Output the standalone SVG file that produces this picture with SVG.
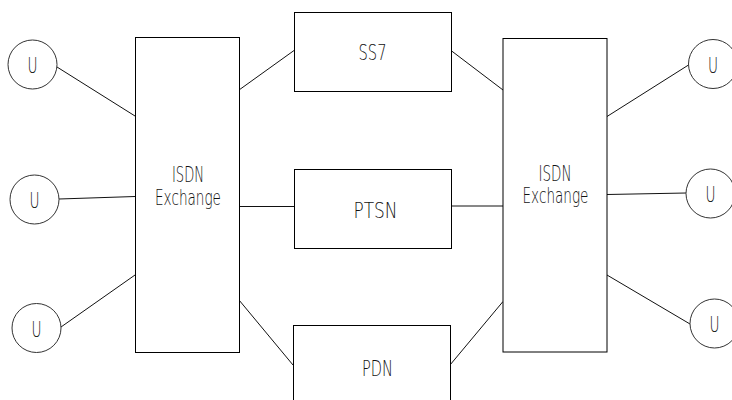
<svg xmlns="http://www.w3.org/2000/svg" width="732" height="400" viewBox="0 0 732 400">
<style>
.box{fill:#fff;stroke:#000;stroke-width:1}
.u{fill:#fff;stroke:#333;stroke-width:1}
.ln{stroke:#111;stroke-width:1;fill:none}
text{font-family:"DejaVu Sans","Liberation Sans",sans-serif;font-weight:200;font-size:22px;fill:#111;text-anchor:middle}
text.ex{font-size:20.5px}
</style>
<rect width="732" height="400" fill="#fff"/>
<g id="connectors">
<line class="ln" x1="57" y1="67" x2="135" y2="116"/>
<line class="ln" x1="59" y1="199" x2="135" y2="196.5"/>
<line class="ln" x1="61" y1="327" x2="135" y2="275"/>
<line class="ln" x1="239" y1="90" x2="294" y2="50.5"/>
<line class="ln" x1="451" y1="50.5" x2="503" y2="90"/>
<line class="ln" x1="239" y1="206.5" x2="294" y2="206.5"/>
<line class="ln" x1="451" y1="206" x2="503" y2="206"/>
<line class="ln" x1="239" y1="300" x2="293" y2="365"/>
<line class="ln" x1="450" y1="365" x2="503" y2="301.5"/>
<line class="ln" x1="607" y1="116.5" x2="688.5" y2="65"/>
<line class="ln" x1="607" y1="194.5" x2="686" y2="193"/>
<line class="ln" x1="607" y1="275" x2="690" y2="324"/>
</g>
<g id="u1"><circle class="u" cx="32.5" cy="64.5" r="24.5"/><text x="32.5" y="73" textLength="10" lengthAdjust="spacingAndGlyphs">U</text></g>
<g id="u2"><circle class="u" cx="34.5" cy="199.5" r="24.5"/><text x="34.5" y="208" textLength="10" lengthAdjust="spacingAndGlyphs">U</text></g>
<g id="u3"><circle class="u" cx="36.5" cy="328" r="24.5"/><text x="36.5" y="336.5" textLength="10" lengthAdjust="spacingAndGlyphs">U</text></g>
<g id="exchange-left"><rect class="box" x="135.5" y="37.5" width="104" height="315"/><text class="ex" x="188" y="182" textLength="32" lengthAdjust="spacingAndGlyphs">ISDN</text><text class="ex" x="188" y="204.5" textLength="66" lengthAdjust="spacingAndGlyphs">Exchange</text></g>
<g id="ss7"><rect class="box" x="294.5" y="12.5" width="157" height="79"/><text x="372.5" y="60" textLength="28" lengthAdjust="spacingAndGlyphs">SS7</text></g>
<g id="ptsn"><rect class="box" x="294.5" y="169.5" width="157" height="79"/><text x="375.5" y="218" textLength="44" lengthAdjust="spacingAndGlyphs">PTSN</text></g>
<g id="pdn"><rect class="box" x="293.5" y="325.5" width="157" height="80"/><text x="377.5" y="376" textLength="31" lengthAdjust="spacingAndGlyphs">PDN</text></g>
<g id="exchange-right"><rect class="box" x="503" y="38.5" width="104" height="313.5"/><text class="ex" x="555" y="180.5" textLength="33" lengthAdjust="spacingAndGlyphs">ISDN</text><text class="ex" x="555.5" y="203" textLength="66" lengthAdjust="spacingAndGlyphs">Exchange</text></g>
<g id="u4"><circle class="u" cx="713" cy="64" r="24.5"/><text x="713" y="72.5" textLength="10" lengthAdjust="spacingAndGlyphs">U</text></g>
<g id="u5"><circle class="u" cx="710.5" cy="193.5" r="24.5"/><text x="710.5" y="202" textLength="10" lengthAdjust="spacingAndGlyphs">U</text></g>
<g id="u6"><circle class="u" cx="714.5" cy="323.5" r="24.5"/><text x="714.5" y="332" textLength="10" lengthAdjust="spacingAndGlyphs">U</text></g>
</svg>
